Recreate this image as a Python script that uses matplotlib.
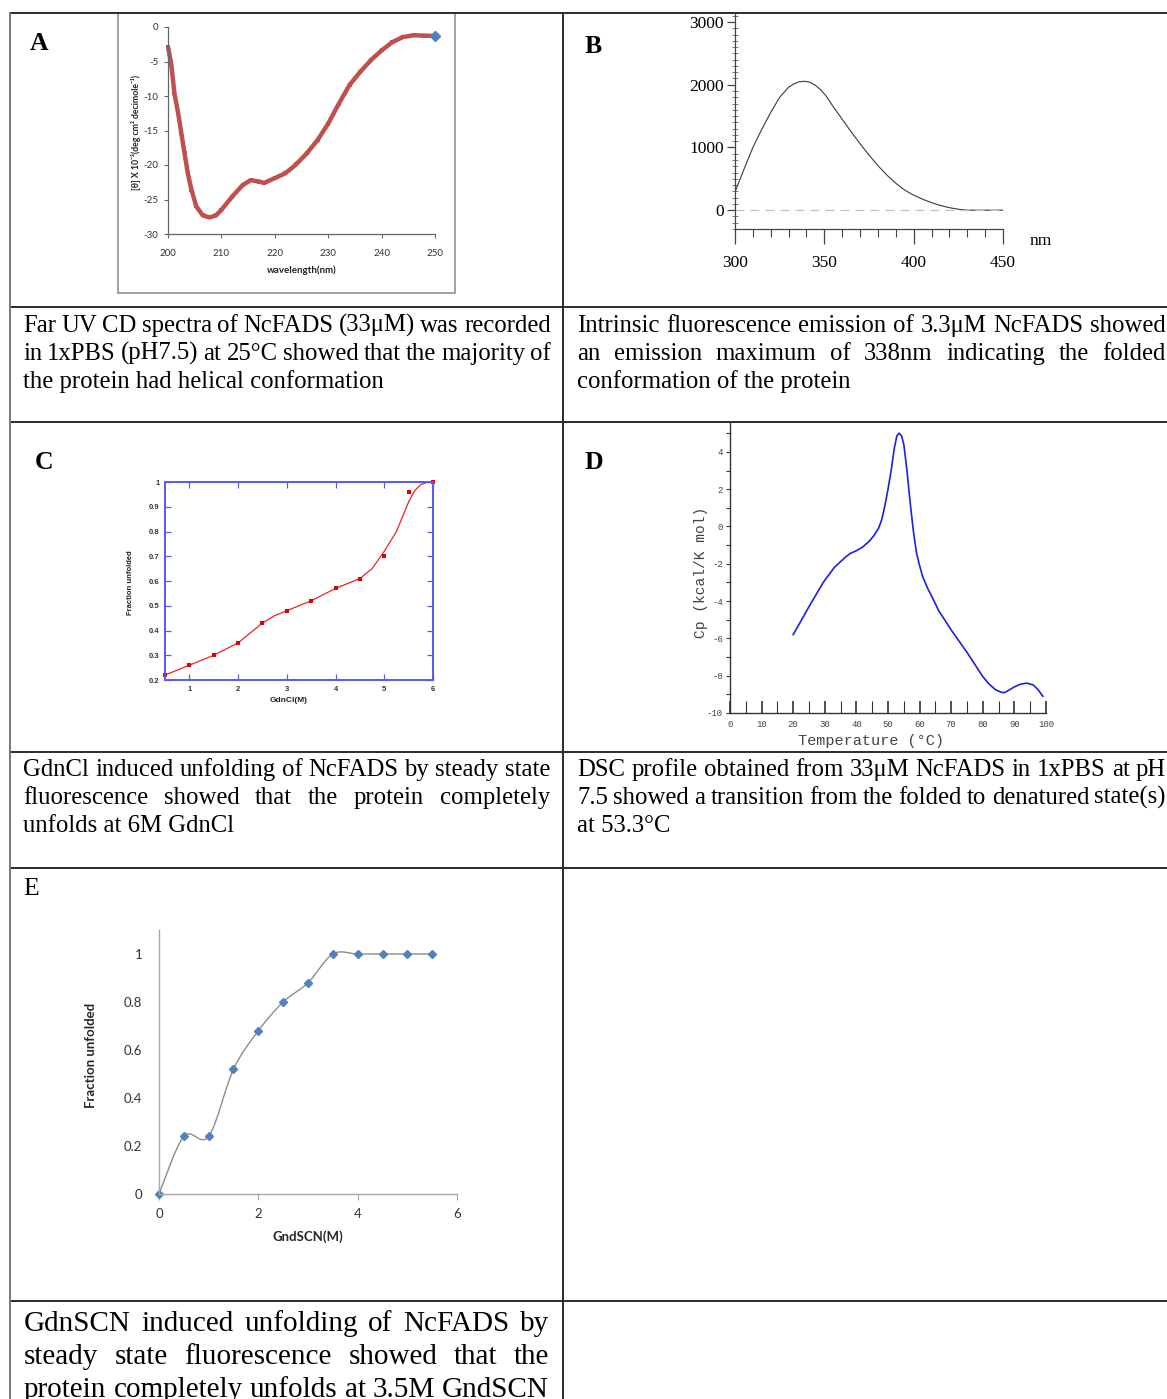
import matplotlib
matplotlib.use('Agg')
import matplotlib.pyplot as plt
from matplotlib.patches import PathPatch, Rectangle
from matplotlib.path import Path
from matplotlib.ticker import MultipleLocator
import numpy as np

plt.rcParams['axes.unicode_minus'] = False

W, H = 1167, 1399
SERIF = 'Liberation Serif'

# A: far UV CD spectrum
cd_wl = [200, 200.6, 201.2, 201.9, 202.5, 203.1, 203.7, 204.4, 205.3, 206.5, 207.8,
         209, 210, 212, 214, 215.5, 217, 218, 220, 222, 224, 226, 228, 230, 232,
         234, 236, 238, 240, 242, 244, 246, 248, 250]
cd_theta = [-2.9, -5.3, -9.6, -12.5, -15.4, -18.3, -21.2, -23.6, -26.0, -27.3, -27.6,
            -27.3, -26.5, -24.6, -22.9, -22.2, -22.4, -22.6, -21.9, -21.2, -19.9, -18.3,
            -16.4, -14.0, -11.1, -8.4, -6.5, -4.8, -3.4, -2.2, -1.45, -1.2, -1.25, -1.3]

# B: intrinsic fluorescence emission
fl_nm = [300, 305, 310, 315, 320, 325, 330, 333, 336, 339, 342, 345, 348, 351, 355,
         360, 365, 370, 375, 380, 385, 390, 395, 400, 405, 410, 415, 420, 425, 430,
         440, 450]
fl_int = [290, 650, 1000, 1290, 1560, 1800, 1960, 2015, 2048, 2055, 2040, 1990, 1920,
          1820, 1650, 1450, 1250, 1060, 880, 710, 560, 430, 320, 240, 175, 120, 75,
          40, 15, 0, 0, 0]

# C: GdnCl denaturation (points + fitted curve)
gdncl_conc = [0.5, 1, 1.5, 2, 2.5, 3, 3.5, 4, 4.5, 5, 5.5, 6]
gdncl_frac = [0.22, 0.26, 0.30, 0.35, 0.43, 0.48, 0.52, 0.57, 0.61, 0.70, 0.96, 1.0]
gdncl_fit_conc = [0.5, 1, 1.5, 2, 2.25, 2.5, 2.75, 3, 3.5, 4, 4.5, 4.75, 5, 5.125,
                  5.25, 5.375, 5.5, 5.625, 5.75, 5.875, 6]
gdncl_fit_frac = [0.22, 0.26, 0.30, 0.35, 0.39, 0.43, 0.46, 0.48, 0.52, 0.57, 0.61,
                  0.65, 0.72, 0.76, 0.80, 0.86, 0.92, 0.965, 0.99, 0.998, 1.0]

# D: DSC thermogram
dsc_temp = [20, 25, 29.5, 33, 36.5, 38, 40, 42, 44, 45.5, 47, 48, 49, 50, 51, 52,
            52.8, 53.5, 54.3, 55, 56, 57, 58, 59, 60, 61, 62.5, 64, 66, 70, 75, 80,
            82, 84, 86, 87, 88, 90, 92, 94, 96, 97.5, 99]
dsc_cp = [-5.8, -4.3, -3.0, -2.2, -1.65, -1.45, -1.3, -1.1, -0.8, -0.5, -0.1, 0.35,
          1.1, 2.0, 3.0, 4.2, 4.85, 5.0, 4.85, 4.4, 3.0, 1.3, -0.2, -1.4, -2.1, -2.7,
          -3.3, -3.8, -4.5, -5.55, -6.75, -8.05, -8.45, -8.75, -8.9, -8.9, -8.8, -8.6,
          -8.45, -8.4, -8.5, -8.75, -9.1]

# E: GdnSCN denaturation
gdnscn_conc = [0, 0.5, 1, 1.5, 2, 2.5, 3, 3.5, 4, 4.5, 5, 5.5]
gdnscn_frac = [0, 0.24, 0.24, 0.52, 0.68, 0.80, 0.88, 1.0, 1.0, 1.0, 1.0, 1.0]

cap_a = ["Far UV CD spectra of NcFADS (33μM) was recorded",
         "in 1xPBS (pH7.5) at 25°C showed that the majority of",
         "the protein had helical conformation"]
cap_b = ["Intrinsic fluorescence emission of 3.3μM NcFADS showed",
         "an emission maximum of 338nm indicating the folded",
         "conformation of the protein"]
cap_c = ["GdnCl induced unfolding of NcFADS by steady state",
         "fluorescence showed that the protein completely",
         "unfolds at 6M GdnCl"]
cap_d = ["DSC profile obtained from 33μM NcFADS in 1xPBS at pH",
         "7.5 showed a transition from the folded to denatured state(s)",
         "at 53.3°C"]
cap_e = ["GdnSCN induced unfolding of NcFADS by",
         "steady state fluorescence showed that the",
         "protein completely unfolds at 3.5M GndSCN"]

fig = plt.figure(figsize=(W / 100, H / 100), dpi=100)
bg = fig.add_axes([0, 0, 1, 1], zorder=-1)
bg.set_xlim(0, W)
bg.set_ylim(H, 0)
bg.axis('off')
renderer = fig.canvas.get_renderer()


def px_axes(x0, y0, x1, y1):
    ax = fig.add_axes([x0 / W, 1 - y1 / H, (x1 - x0) / W, (y1 - y0) / H])
    ax.set_facecolor('none')
    return ax


def para(lines, x0, x1, y0, step, size, just_last=False):
    min_gap = size * 100 / 72 * 0.2
    for i, line in enumerate(lines):
        y = y0 + i * step
        if i == len(lines) - 1 and not just_last:
            bg.text(x0, y, line, family=SERIF, size=size, va='baseline')
            continue
        words = line.split()
        ts = [bg.text(0, y, w, family=SERIF, size=size, va='baseline') for w in words]
        widths = [t.get_window_extent(renderer).width for t in ts]
        gap = max((x1 - x0 - sum(widths)) / (len(words) - 1), min_gap)
        x = x0
        for t, w in zip(ts, widths):
            t.set_x(x)
            x += w + gap


# table grid
for y in [13, 307, 422, 752, 868, 1301]:
    bg.plot([10, W], [y, y], color='#2b2b2b', lw=1.4)
bg.plot([10, 10], [13, H], color='#777777', lw=1.4)
bg.plot([563, 563], [13, H], color='#2b2b2b', lw=1.4)

# panel letters
for s, x, y, bold in [('A', 30, 50, True), ('B', 585, 53, True), ('C', 35, 469, True),
                      ('D', 585, 469, True), ('E', 23, 895, False)]:
    bg.text(x, y, s, family=SERIF, size=18.5, weight='bold' if bold else 'normal',
            va='baseline')

# captions
para(cap_a, 23, 551, 332, 27.8, 17.8)
para(cap_b, 577, 1166, 332, 27.8, 17.8)
para(cap_c, 23, 550, 776, 27.8, 17.8)
para(cap_d, 577, 1166, 776, 27.8, 17.8)
para(cap_e, 24, 549, 1331, 33, 21, just_last=True)

# ---- A ----
bg.add_patch(Rectangle((118, 13), 337, 280, fill=False, ec='#9a9a9a', lw=1.3))
ax = px_axes(168, 27, 435, 234)
ax.plot(cd_wl, cd_theta, color='#C0504D', lw=3.2, marker='s', ms=3.3, mew=0,
        clip_on=False, solid_capstyle='butt')
ax.plot(cd_wl[-1], cd_theta[-1], marker='D', ms=5.5, color='#4F81BD', clip_on=False)
ax.set_xlim(200, 250)
ax.set_ylim(-30, 0)
ax.xaxis.set_major_locator(MultipleLocator(10))
ax.yaxis.set_major_locator(MultipleLocator(5))
for sp in ['top', 'right']:
    ax.spines[sp].set_visible(False)
for sp in ['left', 'bottom']:
    ax.spines[sp].set_color('#666666')
    ax.spines[sp].set_linewidth(0.9)
ax.tick_params(length=3, width=0.8, color='#666666', labelsize=7, labelcolor='#333333')
ax.tick_params(axis='x', pad=8)
ax.tick_params(axis='y', pad=4)
for lab in ax.get_xticklabels() + ax.get_yticklabels():
    lab.set_family(['Lato', 'DejaVu Sans'])
bg.text(136, 132, '[θ] X 10⁻³(deg cm² decimole⁻¹)', rotation=90, ha='center',
        va='center', size=6.3, weight='bold', family=['Lato', 'DejaVu Sans'], color='#222')
bg.text(302, 270, 'wavelength(nm)', ha='center', va='center', size=7, weight='bold',
        family=['Lato', 'DejaVu Sans'], color='#222')

# ---- B ----
ax = px_axes(735, 12, 1003, 229)
ax.plot(fl_nm, fl_int, color='#3a3a3a', lw=0.8)
ax.axhline(0, color='#c0c0c0', lw=0.9, ls=(0, (7, 5)))
ax.set_xlim(300, 450)
ax.set_ylim(-300, 3160)
ax.xaxis.set_major_locator(MultipleLocator(50))
ax.xaxis.set_minor_locator(MultipleLocator(10))
ax.yaxis.set_major_locator(MultipleLocator(1000))
ax.yaxis.set_minor_locator(MultipleLocator(100))
for sp in ['top', 'right']:
    ax.spines[sp].set_visible(False)
for sp in ['left', 'bottom']:
    ax.spines[sp].set_color('#444444')
    ax.spines[sp].set_linewidth(0.9)
ax.tick_params(axis='x', which='major', direction='out', length=11, width=0.9,
               color='#444444', pad=8, labelsize=12.5)
ax.tick_params(axis='x', which='minor', direction='out', length=6, width=0.8,
               color='#444444')
ax.tick_params(axis='y', which='major', direction='out', length=6, width=0.9,
               color='#444444', pad=2, labelsize=12.5)
ax.tick_params(axis='y', which='minor', direction='inout', length=5, width=0.6,
               color='#666666')
for lab in ax.get_xticklabels() + ax.get_yticklabels():
    lab.set_family(SERIF)
bg.text(1041, 241, 'nm', ha='center', va='center', size=12.5, family=SERIF)

# ---- C ----
ax = px_axes(165, 482, 433, 680)
ax.plot(gdncl_fit_conc, gdncl_fit_frac, color='#ee2222', lw=0.9)
ax.plot(gdncl_conc, gdncl_frac, ls='none', marker='s', ms=2.6, mew=0, color='#dd0000',
        clip_on=False)
ax.set_xlim(0.5, 6)
ax.set_ylim(0.2, 1)
ax.set_xticks([1, 2, 3, 4, 5, 6])
ax.set_yticks([0.2, 0.3, 0.4, 0.5, 0.6, 0.7, 0.8, 0.9, 1.0])
ax.set_yticklabels(['0.2', '0.3', '0.4', '0.5', '0.6', '0.7', '0.8', '0.9', '1'])
for sp in ax.spines.values():
    sp.set_color('#5a5aee')
    sp.set_linewidth(1.4)
ax.tick_params(direction='in', length=4, width=0.9, color='#5a5aee', top=True,
               right=True, labelsize=5.5, pad=4)
for lab in ax.get_xticklabels() + ax.get_yticklabels():
    lab.set_family('Liberation Sans')
    lab.set_weight('bold')
    lab.set_color('#333333')
bg.text(131, 583, 'Fraction unfolded', rotation=90, ha='center', va='center', size=5.5,
        weight='bold', family='Liberation Sans', color='#222')
bg.text(289, 700, 'GdnCl(M)', ha='center', va='center', size=6, weight='bold',
        family='Liberation Sans', color='#222')

# ---- D ----
ax = px_axes(730, 422, 1046, 713)
ax.plot(dsc_temp, dsc_cp, color='#1f1fe0', lw=1.2)
ax.set_xlim(0, 100)
ax.set_ylim(-10, 5.6)
ax.xaxis.set_major_locator(MultipleLocator(10))
ax.xaxis.set_minor_locator(MultipleLocator(5))
ax.yaxis.set_major_locator(MultipleLocator(2))
ax.yaxis.set_minor_locator(MultipleLocator(1))
for sp in ['top', 'right']:
    ax.spines[sp].set_visible(False)
for sp in ['left', 'bottom']:
    ax.spines[sp].set_color('#333333')
    ax.spines[sp].set_linewidth(1.0)
ax.tick_params(axis='x', which='both', direction='in', length=9, color='#333333')
ax.tick_params(axis='x', which='major', width=1.2, pad=5, labelsize=6.5)
ax.tick_params(axis='x', which='minor', width=0.8)
ax.tick_params(axis='y', which='both', direction='out', length=3, width=0.8,
               color='#333333', pad=2, labelsize=6.5)
for lab in ax.get_xticklabels() + ax.get_yticklabels():
    lab.set_family('Liberation Mono')
    lab.set_color('#444444')
bg.text(701, 572, 'Cp (kcal/K mol)', rotation=90, ha='center', va='center', size=10.5,
        family='Liberation Mono', color='#444')
bg.text(871, 741, 'Temperature (°C)', ha='center', va='center', size=11,
        family='Liberation Mono', color='#444')

# ---- E ----
ax = px_axes(159, 930, 457, 1194)
pts = np.column_stack([gdnscn_conc, gdnscn_frac])
verts, codes = [pts[0]], [Path.MOVETO]
for i in range(len(pts) - 1):
    p0 = pts[max(i - 1, 0)]
    p1, p2 = pts[i], pts[i + 1]
    p3 = pts[min(i + 2, len(pts) - 1)]
    verts += [p1 + (p2 - p0) / 6, p2 - (p3 - p1) / 6, p2]
    codes += [Path.CURVE4] * 3
ax.add_patch(PathPatch(Path(verts, codes), fill=False, ec='#8c8c8c', lw=1.0))
ax.plot(gdnscn_conc, gdnscn_frac, ls='none', marker='D', ms=4.5, color='#4F81BD',
        clip_on=False)
ax.set_xlim(0, 6)
ax.set_ylim(0, 1.1)
ax.set_xticks([0, 2, 4, 6])
ax.set_yticks([0, 0.2, 0.4, 0.6, 0.8, 1])
ax.set_yticklabels(['0', '0.2', '0.4', '0.6', '0.8', '1'])
for sp in ['top', 'right']:
    ax.spines[sp].set_visible(False)
for sp in ['left', 'bottom']:
    ax.spines[sp].set_color('#a6a6a6')
    ax.spines[sp].set_linewidth(1.0)
ax.tick_params(axis='x', direction='out', length=4, color='#a6a6a6', labelsize=9.5,
               pad=6)
ax.tick_params(axis='y', length=0, labelsize=9.5, pad=12)
for lab in ax.get_xticklabels() + ax.get_yticklabels():
    lab.set_family(['Lato', 'DejaVu Sans'])
    lab.set_color('#333333')
bg.text(91, 1055, 'Fraction unfolded', rotation=90, ha='center', va='center', size=9.5,
        weight='bold', family=['Lato', 'DejaVu Sans'], color='#262626')
bg.text(308, 1237, 'GndSCN(M)', ha='center', va='center', size=9.5, weight='bold',
        family=['Lato', 'DejaVu Sans'], color='#262626')

fig.savefig('out.png', dpi=100)
